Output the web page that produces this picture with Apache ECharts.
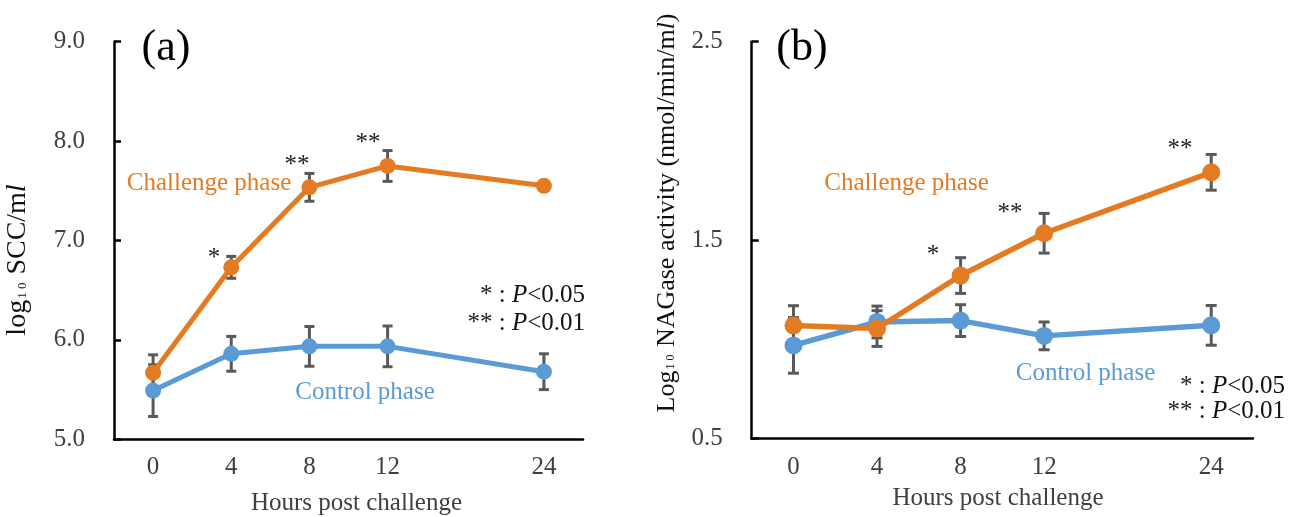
<!DOCTYPE html>
<html>
<head>
<meta charset="utf-8">
<script src="https://cdn.jsdelivr.net/npm/echarts@6/dist/echarts.min.js"></script>
<style>
html,body{margin:0;padding:0;background:#fff;}
#chart{width:1298px;height:517px;}
</style>
</head>
<body>
<div id="chart"></div>
<script>
// ---------- data ----------
// x slots (an empty slot keeps the wider gap between 12 h and 24 h)
const hourSlots = ['0', '4', '8', '12', '', '24'];

// (a) log10 SCC/ml
const sccChallenge    = [5.67, 6.73, 7.535, 7.75, null, 7.55];
const sccChallengeErr = [0.18, 0.11, 0.14, 0.155, null, 0];
const sccControl      = [5.49, 5.86, 5.935, 5.935, null, 5.68];
const sccControlErr   = [0.26, 0.175, 0.20, 0.205, null, 0.18];

// (b) log10 NAGase activity (nmol/min/ml)
const nagChallenge    = [1.07, 1.055, 1.322, 1.535, null, 1.842];
const nagChallengeErr = [0.10, 0.09, 0.09, 0.10, null, 0.09];
const nagControl      = [0.97, 1.088, 1.095, 1.018, null, 1.071];
const nagControlErr   = [0.14, 0.08, 0.08, 0.07, null, 0.10];

const sccTicks = [5, 6, 7, 8, 9];
const nagTicks = [0.5, 1.5, 2.5];

// ---------- style ----------
const SERIF = '"Liberation Serif", "Times New Roman", serif';
const ORANGE = '#E47B22';
const BLUE = '#5B9BD5';
const ERR = '#595959';
const AXIS = '#000000';
const LABEL = '#404040';

function lineData(arr) { return arr.map(v => (v === null ? '-' : v)); }
function errData(vals, errs) {
  const out = [];
  vals.forEach((v, i) => { if (v !== null && errs[i] > 0) out.push([i, v, errs[i]]); });
  return out;
}
function errRender(capHalf) {
  return function (params, api) {
    const i = api.value(0), v = api.value(1), e = api.value(2);
    const top = api.coord([i, v + e]);
    const bot = api.coord([i, v - e]);
    const st = { stroke: ERR, lineWidth: 3 };
    return {
      type: 'group',
      children: [
        { type: 'line', shape: { x1: top[0], y1: top[1], x2: bot[0], y2: bot[1] }, style: st },
        { type: 'line', shape: { x1: top[0] - capHalf, y1: top[1], x2: top[0] + capHalf, y2: top[1] }, style: st },
        { type: 'line', shape: { x1: bot[0] - capHalf, y1: bot[1], x2: bot[0] + capHalf, y2: bot[1] }, style: st }
      ]
    };
  };
}

function xAxisCfg(gi) {
  return {
    gridIndex: gi, type: 'category', data: hourSlots, boundaryGap: true,
    axisLine: { show: true, lineStyle: { color: AXIS, width: 2.5 } },
    axisTick: { show: false },
    axisLabel: { fontFamily: SERIF, fontSize: 25, color: LABEL, margin: 16 },
    splitLine: { show: false }
  };
}
function yAxisCfg(gi, min, max, ticks) {
  return {
    gridIndex: gi, type: 'value', min: min, max: max,
    axisLine: { show: true, lineStyle: { color: AXIS, width: 2.5 } },
    axisTick: { show: true, inside: true, length: 7, customValues: ticks, lineStyle: { color: AXIS, width: 2.5 } },
    axisLabel: { customValues: ticks, formatter: v => Number(v).toFixed(1), fontFamily: SERIF, fontSize: 25, color: LABEL, margin: 29 },
    splitLine: { show: false }
  };
}
function lineSeries(gi, data, color, size, width, z) {
  return {
    type: 'line', xAxisIndex: gi, yAxisIndex: gi, data: lineData(data),
    connectNulls: true, symbol: 'circle', symbolSize: size,
    itemStyle: { color: color }, lineStyle: { color: color, width: width },
    z: z, animation: false, silent: true
  };
}
function errSeries(gi, vals, errs, capHalf) {
  return {
    type: 'custom', xAxisIndex: gi, yAxisIndex: gi, data: errData(vals, errs),
    renderItem: errRender(capHalf), z: 1, animation: false, silent: true
  };
}

function txt(text, x, y, opts) {
  opts = opts || {};
  return {
    type: 'text', x: x, y: y, rotation: opts.rotation || 0, z: 100, silent: true,
    style: {
      text: text, fontFamily: SERIF, fontSize: opts.size || 25,
      fill: opts.color || '#000', align: opts.align || 'center', verticalAlign: 'middle',
      rich: opts.rich
    }
  };
}
const richP = {
  n: { fontFamily: SERIF, fontSize: 25, fill: '#111' },
  i: { fontFamily: SERIF, fontSize: 25, fill: '#111', fontStyle: 'italic' },
  st: { fontFamily: SERIF, fontSize: 25, fill: '#222' }
};
function richY(size, sub) {
  return {
    n: { fontFamily: SERIF, fontSize: size, fill: '#111' },
    s: { fontFamily: SERIF, fontSize: sub, fill: '#111', verticalAlign: 'bottom', padding: [0, 1, 3, 1] },
    i: { fontFamily: SERIF, fontSize: size, fill: '#111', fontStyle: 'italic' }
  };
}

const chart = echarts.init(document.getElementById('chart'), null, { renderer: 'canvas' });
chart.setOption({
  backgroundColor: '#ffffff',
  animation: false,
  grid: [
    { left: 114, top: 41.7, width: 469, height: 397.6 },
    { left: 751.7, top: 41.7, width: 501.3, height: 397 }
  ],
  xAxis: [xAxisCfg(0), xAxisCfg(1)],
  yAxis: [yAxisCfg(0, 5, 9, sccTicks), yAxisCfg(1, 0.5, 2.5, nagTicks)],
  series: [
    errSeries(0, sccControl, sccControlErr, 5),
    errSeries(0, sccChallenge, sccChallengeErr, 5),
    lineSeries(0, sccControl, BLUE, 16, 5, 3),
    lineSeries(0, sccChallenge, ORANGE, 16, 5, 4),
    errSeries(1, nagControl, nagControlErr, 5.5),
    errSeries(1, nagChallenge, nagChallengeErr, 5.5),
    lineSeries(1, nagControl, BLUE, 18, 5.5, 3),
    lineSeries(1, nagChallenge, ORANGE, 18, 5.5, 4)
  ],
  graphic: [
    // panel (a)
    txt('(a)', 166, 48, { size: 44 }),
    txt('Challenge phase', 209, 183, { color: ORANGE }),
    txt('Control phase', 365, 392, { color: BLUE }),
    txt('{st|*} {n|: }{i|P}{n|<0.05}', 585, 295, { align: 'right', rich: richP }),
    txt('{st|**} {n|: }{i|P}{n|<0.01}', 585, 323, { align: 'right', rich: richP }),
    txt('*', 214, 258, { size: 25, color: '#222' }),
    txt('**', 297, 165, { size: 25, color: '#222' }),
    txt('**', 368, 143, { size: 25, color: '#222' }),
    txt('{n|log}{s|1 0}{n| SCC/m}{i|l}', 18, 260, { rotation: Math.PI / 2, rich: richY(28, 13) }),
    txt('Hours post challenge', 356.5, 503.5, { color: LABEL }),
    // panel (b)
    txt('(b)', 802, 48, { size: 44 }),
    txt('Challenge phase', 906.5, 183, { color: ORANGE }),
    txt('Control phase', 1085.5, 373, { color: BLUE }),
    txt('{st|*} {n|: }{i|P}{n|<0.05}', 1285, 386, { align: 'right', rich: richP }),
    txt('{st|**} {n|: }{i|P}{n|<0.01}', 1285, 411, { align: 'right', rich: richP }),
    txt('*', 933, 255, { size: 25, color: '#222' }),
    txt('**', 1010, 213, { size: 25, color: '#222' }),
    txt('**', 1180, 149, { size: 25, color: '#222' }),
    txt('{n|Log}{s|1 0}{n| NAGase activity (nmol/min/m}{i|l}{n|)}', 667, 213, { rotation: Math.PI / 2, rich: richY(26, 12) }),
    txt('Hours post challenge', 998, 498.7, { color: LABEL })
  ]
});
</script>
</body>
</html>
